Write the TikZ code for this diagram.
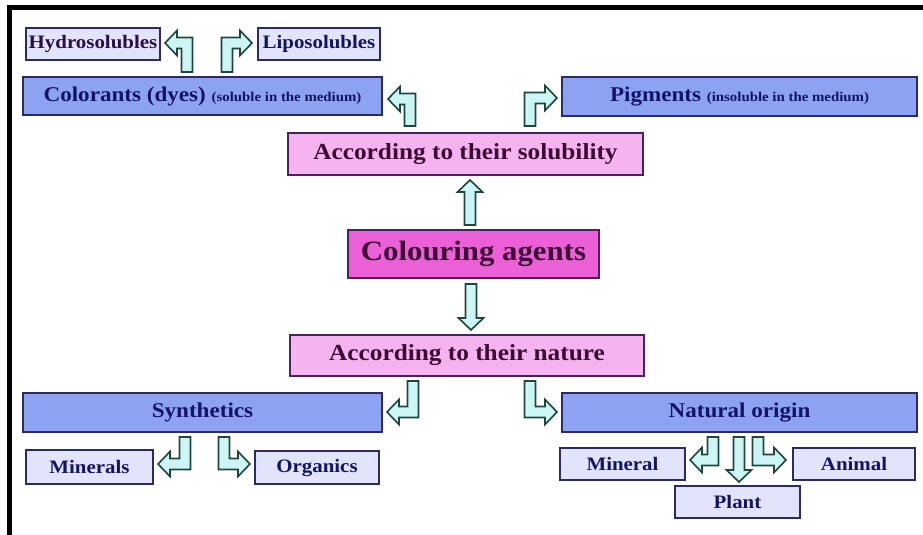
\documentclass[tikz,border=0pt]{standalone}
\usepackage{fontspec}
\usetikzlibrary{calc}
\setmainfont{Liberation Serif}[FakeStretch=1.1]
\definecolor{bluefill}{HTML}{8DA3F2}
\definecolor{lightfill}{HTML}{E1E4FA}
\definecolor{pinkfill}{HTML}{F5B4F0}
\definecolor{magfill}{HTML}{EB5FD7}
\definecolor{navyline}{HTML}{2A2A66}
\definecolor{pinkline}{HTML}{4B2060}
\definecolor{navytext}{HTML}{141464}
\definecolor{pinktext}{HTML}{3C0A32}
\definecolor{arrowfill}{HTML}{CDF5F5}
\definecolor{arrowline}{HTML}{1E463C}
\newcommand\fs[1]{\fontsize{#1}{#1}\selectfont}
% bent hollow arrow: vertical stem from #1, then horizontal to tip #2
\newcommand\bentarrow[2]{%
  \draw[hollowarrow] let \p1=(#1), \p2=(#2),
    \n1={sign(\x2-\x1)}, \n2={sign(\y2-\y1)} in
    (\x1-5.5pt*\n1,\y1) -- (\x1+5.5pt*\n1,\y1)
    -- (\x1+5.5pt*\n1,\y2-5.5pt*\n2)
    -- (\x2-12pt*\n1,\y2-5.5pt*\n2)
    -- (\x2-12pt*\n1,\y2-12.5pt*\n2)
    -- (\x2,\y2)
    -- (\x2-12pt*\n1,\y2+12.5pt*\n2)
    -- (\x2-12pt*\n1,\y2+5.5pt*\n2)
    -- (\x1-5.5pt*\n1,\y2+5.5pt*\n2) -- cycle;}
% straight vertical hollow arrow from #1 to #2
\newcommand\vertarrow[2]{%
  \draw[hollowarrow] let \p1=(#1), \p2=(#2),
    \n2={sign(\y2-\y1)} in
    (\x1-5.5pt,\y1) -- (\x1+5.5pt,\y1)
    -- (\x1+5.5pt,\y2-12pt*\n2)
    -- (\x1+12.5pt,\y2-12pt*\n2)
    -- (\x1,\y2)
    -- (\x1-12.5pt,\y2-12pt*\n2)
    -- (\x1-5.5pt,\y2-12pt*\n2) -- cycle;}
\tikzset{
  box/.style={draw=navyline, line width=1.6pt, inner sep=0pt, font=\bfseries, text=navytext},
  bluebox/.style={box, fill=bluefill},
  lightbox/.style={box, fill=lightfill},
  pinkbox/.style={box, fill=pinkfill, draw=pinkline, text=pinktext},
  magbox/.style={box, fill=magfill, draw=pinkline, text=pinktext},
  hollowarrow/.style={fill=arrowfill, draw=arrowline, line width=1.6pt, line join=miter},
}
\begin{document}
\begin{tikzpicture}[x=1pt,y=-1pt]
\useasboundingbox (0,0) rectangle (923,535);
% frame
\draw[line width=4.5pt] (9.5,535) -- (9.5,7.5) -- (923,7.5);

% top row
\node[lightbox, minimum width=134pt, minimum height=32pt, text=pinktext!60!navytext] (hydro) at (93,44) {\fs{19}Hydrosolubles};
\node[lightbox, minimum width=122pt, minimum height=32pt] (lipo) at (319,44) {\fs{19}Liposolubles};

\node[bluebox, minimum width=359pt, minimum height=38pt] (col) at (202.5,96)
  {\fs{21}Colorants (dyes) \fs{13.5}(soluble in the medium)};
\node[bluebox, minimum width=355pt, minimum height=39pt] (pig) at (739.5,96.5)
  {\fs{21}Pigments \fs{13.5}(insoluble in the medium)};

\node[pinkbox, minimum width=355pt, minimum height=42pt] (sol) at (465.5,154) {\fs{23}According to their solubility};
\node[magbox, minimum width=251pt, minimum height=48pt] (agents) at (473.5,254) {\fs{28}Colouring agents};
\node[pinkbox, minimum width=354pt, minimum height=41pt] (nat) at (467,355.5) {\fs{23}According to their nature};

\node[bluebox, minimum width=359pt, minimum height=39pt] (syn) at (202.5,412.5) {\fs{21}Synthetics};
\node[bluebox, minimum width=355pt, minimum height=39pt] (orig) at (739.5,412.5) {\fs{21}Natural origin};

\node[lightbox, minimum width=127pt, minimum height=34pt] (minerals) at (89.5,467) {\fs{19}Minerals};
\node[lightbox, minimum width=124pt, minimum height=33pt] (organics) at (317,467.5) {\fs{19}Organics};
\node[lightbox, minimum width=125pt, minimum height=32pt] (mineral) at (622.5,464) {\fs{19}Mineral};
\node[lightbox, minimum width=122pt, minimum height=32pt] (animal) at (854,464) {\fs{19}Animal};
\node[lightbox, minimum width=125pt, minimum height=32pt] (plant) at (737.5,502) {\fs{19}Plant};

% connector end points
\coordinate (hs) at (187,72);  \coordinate (ht) at (165,43);
\coordinate (ls) at (227,72);  \coordinate (lt) at (252,43);
\coordinate (cs) at (410,126); \coordinate (ct) at (388,99);
\coordinate (ps) at (530,126); \coordinate (pgt) at (557,98);
\coordinate (ss) at (413,381); \coordinate (st) at (387,412);
\coordinate (os) at (530,381); \coordinate (ot) at (557,412);
\coordinate (m1s) at (185,437); \coordinate (m1t) at (158,464);
\coordinate (o1s) at (224,437); \coordinate (o1t) at (250,464);
\coordinate (m2s) at (713,437); \coordinate (m2t) at (690,460);
\coordinate (a2s) at (758,437); \coordinate (a2t) at (786,460);
\coordinate (ups) at (470,225); \coordinate (upt) at (470,180);
\coordinate (dns) at (471,284); \coordinate (dnt) at (471,330);
\coordinate (pls) at (739,437); \coordinate (plt) at (739,482);

\bentarrow{hs}{ht}
\bentarrow{ls}{lt}
\bentarrow{cs}{ct}
\bentarrow{ps}{pgt}
\bentarrow{ss}{st}
\bentarrow{os}{ot}
\bentarrow{m1s}{m1t}
\bentarrow{o1s}{o1t}
\bentarrow{m2s}{m2t}
\bentarrow{a2s}{a2t}
\vertarrow{ups}{upt}
\vertarrow{dns}{dnt}
\vertarrow{pls}{plt}
\end{tikzpicture}
\end{document}
